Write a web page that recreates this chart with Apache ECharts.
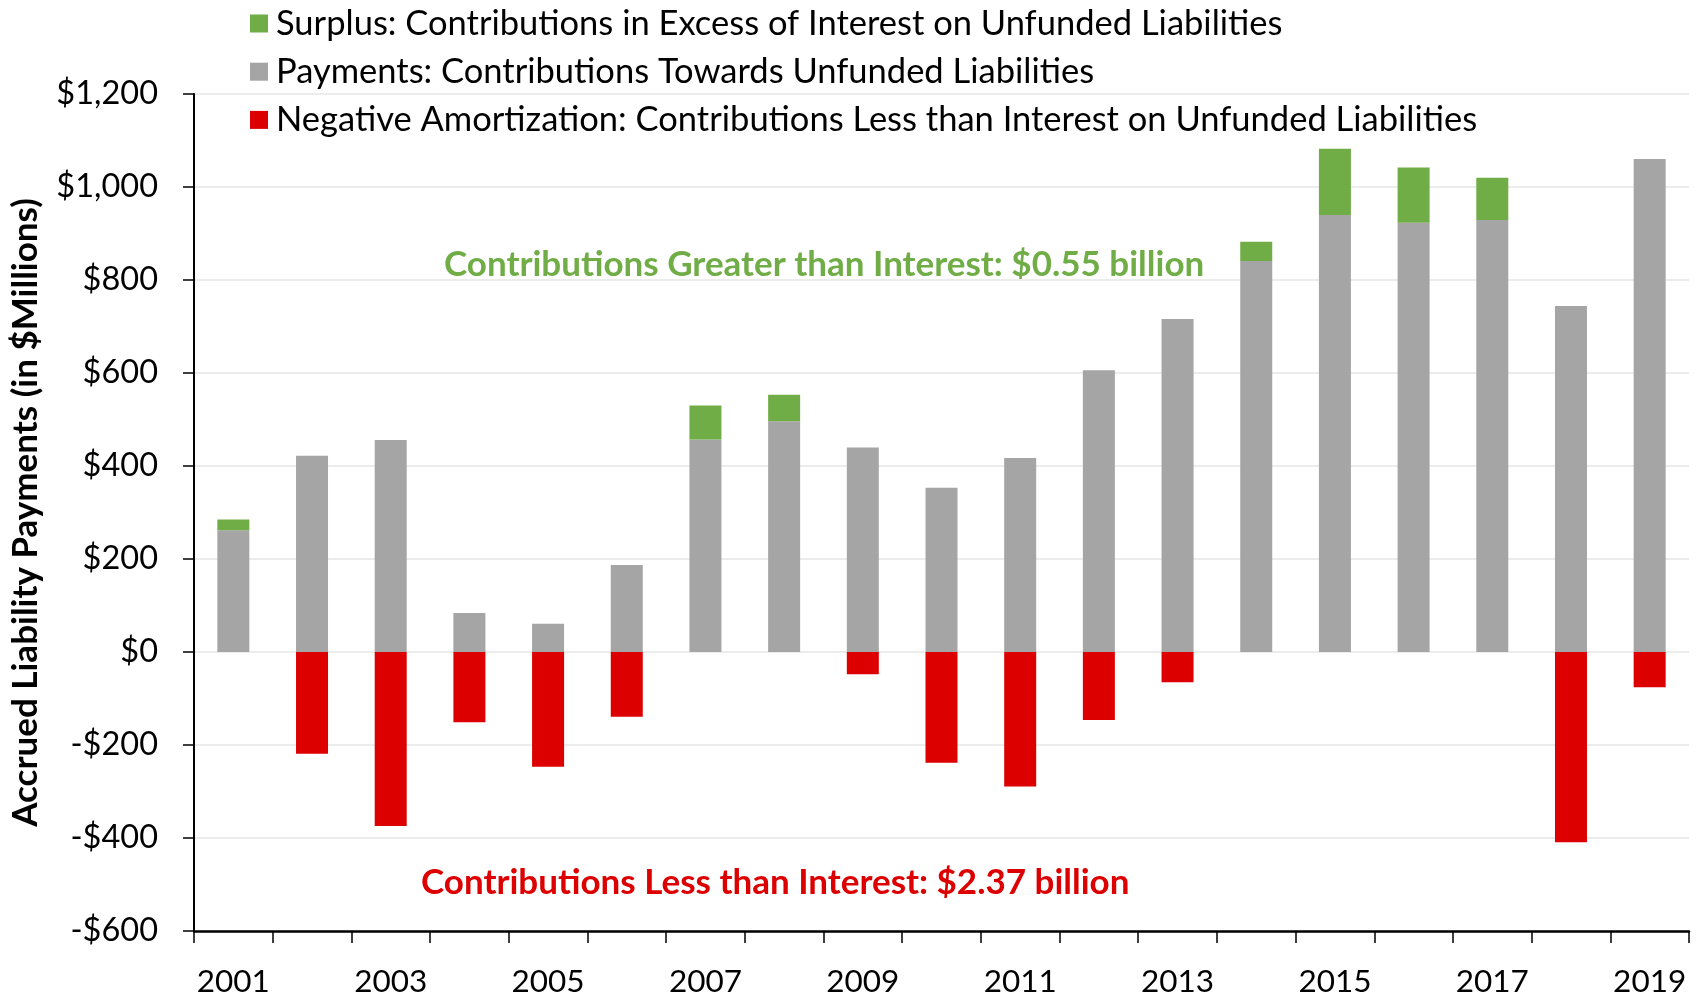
<!DOCTYPE html>
<html>
<head>
<meta charset="utf-8">
<script src="https://cdn.jsdelivr.net/npm/echarts@6/dist/echarts.min.js"></script>
<style>
  html, body { margin: 0; padding: 0; background: #fff; }
  #chart { width: 1698px; height: 998px; }
</style>
</head>
<body>
<div id="chart"></div>
<script>
const years = ['2001','2002','2003','2004','2005','2006','2007','2008','2009','2010','2011','2012','2013','2014','2015','2016','2017','2018','2019'];
const payments = [262, 422, 456, 84, 61, 187, 457, 496, 440, 353, 417, 606, 716, 841, 940, 923, 929, 744, 1060];
const surplus = [23, null, null, null, null, null, 73, 57, null, null, null, null, null, 41, 142, 119, 91, null, null];
const negative = [null, -219, -374, -151, -247, -139, null, null, -48, -238, -289, -146, -65, null, null, null, null, -409, -76];
const seriesNames = [
  'Surplus: Contributions in Excess of Interest on Unfunded Liabilities',
  'Payments: Contributions Towards Unfunded Liabilities',
  'Negative Amortization: Contributions Less than Interest on Unfunded Liabilities'
];
const yAxisTitle = 'Accrued Liability Payments (in $Millions)';
const noteGreen = 'Contributions Greater than Interest: $0.55 billion';
const noteRed = 'Contributions Less than Interest: $2.37 billion';

const chart = echarts.init(document.getElementById('chart'), null, { renderer: 'canvas' });
const FONT = 'Lato, "Open Sans", sans-serif';

chart.setOption({
  animation: false,
  backgroundColor: '#ffffff',
  grid: { left: 193, right: 9, top: 94, bottom: 64.5, containLabel: false },
  legend: {
    orient: 'vertical',
    left: 245,
    top: 1,
    icon: 'rect',
    itemWidth: 18,
    itemHeight: 18,
    itemGap: 13.2,
    selectedMode: false,
    data: seriesNames,
    textStyle: { fontFamily: FONT, fontSize: 34.5, color: '#000', lineHeight: 34.5, padding: [0, 0, 0, 3] }
  },
  xAxis: {
    type: 'category',
    data: years,
    boundaryGap: true,
    axisLine: { onZero: false, lineStyle: { color: '#000', width: 2.5 } },
    axisTick: { show: true, interval: 0, alignWithLabel: false, length: 12, lineStyle: { color: '#000', width: 1.5 } },
    axisLabel: { interval: 1, fontFamily: FONT, fontSize: 31.5, color: '#000', margin: 35, lineHeight: 32 },
    splitLine: { show: false }
  },
  yAxis: {
    type: 'value',
    min: -600,
    max: 1200,
    interval: 200,
    name: yAxisTitle,
    nameLocation: 'middle',
    nameGap: 151,
    nameTextStyle: { fontFamily: FONT, fontWeight: 'bold', fontSize: 35, color: '#000' },
    axisLine: { show: true, lineStyle: { color: '#000', width: 2 } },
    axisTick: { show: true, inside: false, length: 11, lineStyle: { color: '#000', width: 1.5 } },
    axisLabel: {
      fontFamily: FONT, fontSize: 32.5, color: '#000', margin: 36,
      formatter: function (v) { return (v < 0 ? '-$' : '$') + Math.abs(v).toLocaleString('en-US'); }
    },
    splitLine: { show: true, lineStyle: { color: '#ececec', width: 2 } }
  },
  series: [
    { name: seriesNames[1], type: 'bar', stack: 'total', data: payments, barWidth: 32, itemStyle: { color: '#A5A5A5' } },
    { name: seriesNames[0], type: 'bar', stack: 'total', data: surplus, barWidth: 32, itemStyle: { color: '#70AD47' } },
    { name: seriesNames[2], type: 'bar', stack: 'total', data: negative, barWidth: 32, itemStyle: { color: '#DC0000' } }
  ],
  graphic: [
    { type: 'text', x: 444, y: 265, style: { text: noteGreen, fill: '#70AD47', font: 'bold 35px ' + FONT, align: 'left', verticalAlign: 'middle' } },
    { type: 'text', x: 421, y: 883, style: { text: noteRed, fill: '#DC0000', font: 'bold 35px ' + FONT, align: 'left', verticalAlign: 'middle' } }
  ]
});
</script>
</body>
</html>
